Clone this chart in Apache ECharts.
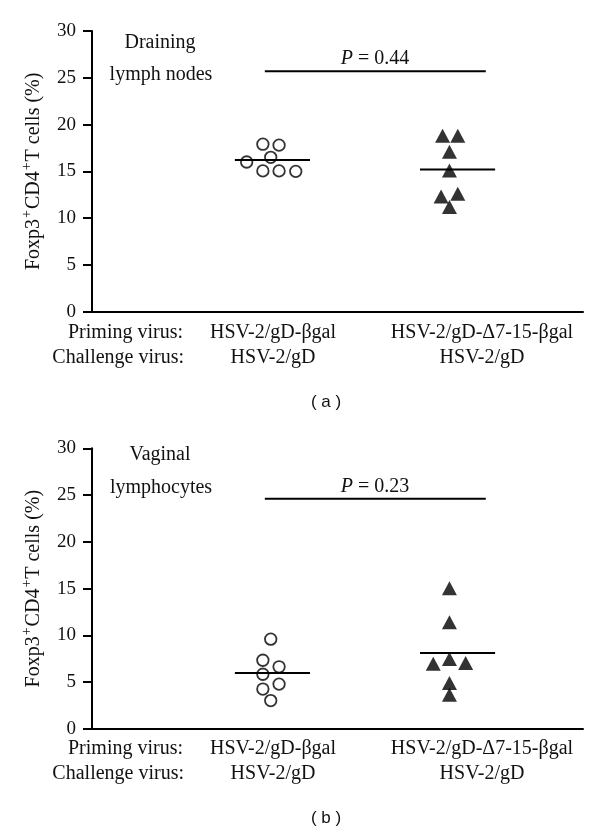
<!DOCTYPE html>
<html>
<head>
<meta charset="utf-8">
<script src="https://cdn.jsdelivr.net/npm/echarts@6/dist/echarts.min.js"></script>
<style>html,body{margin:0;padding:0;background:#fff}#c{width:600px;height:834px}</style>
</head>
<body>
<div id="c"></div>
<script>
// ---- data ----
const yTicks = [0, 5, 10, 15, 20, 25, 30];
const rowLabels = ['Priming virus:', 'Challenge virus:'];
const primingLabels = ['HSV-2/gD-βgal', 'HSV-2/gD-Δ7-15-βgal'];
const challengeLabels = ['HSV-2/gD', 'HSV-2/gD'];
const yAxisTitle = ['Foxp3', '+', 'CD4', '+', 'T cells (%)'];
const captions = ['( a )', '( b )'];

// panel (a): draining lymph nodes
const aTitle = ['Draining', 'lymph nodes'];
const aCircleX = [3.15, 3.48, 3.81, 3.64, 3.48, 3.81, 4.15];
const aCircleY = [16.0, 17.9, 17.8, 16.5, 15.05, 15.05, 15.0];
const aTriX = [7.14, 7.45, 7.28, 7.28, 7.11, 7.45, 7.28];
const aTriY = [18.8, 18.8, 17.1, 15.1, 12.3, 12.6, 11.2];
const aMeans = [16.2, 15.2];
const aP = '0.44';
const aPLevel = 25.7;

// panel (b): vaginal lymphocytes
const bTitle = ['Vaginal', 'lymphocytes'];
const bCircleX = [3.64, 3.48, 3.81, 3.48, 3.81, 3.48, 3.64];
const bCircleY = [9.6, 7.35, 6.65, 5.85, 4.8, 4.27, 3.04];
const bTriX = [7.28, 7.28, 7.28, 6.95, 7.61, 7.28, 7.28];
const bTriY = [15.05, 11.4, 7.47, 6.97, 7.05, 4.91, 3.66];
const bMeans = [5.98, 8.11];
const bP = '0.23';
const bPLevel = 24.6;

// horizontal extents (x-axis units) of the mean bars and p-value bar
const meanBarX = [[2.91, 4.44], [6.68, 8.21]];
const pBarX = [3.52, 8.02];

// ---- build ----
const SERIF = '"Liberation Serif", "Times New Roman", serif';
const chart = echarts.init(document.getElementById('c'), null, {renderer: 'canvas'});

const gridTops = [31, 448.3];
const gridH = 280.7;
const grids = gridTops.map(t => ({left: 92, top: t, width: 491, height: gridH}));

const xAxes = [0, 1].map(i => ({
  type: 'value', gridIndex: i, min: 0, max: 10,
  axisLine: {show: true, onZero: false, lineStyle: {color: '#000', width: 2}},
  axisTick: {show: false}, axisLabel: {show: false}, splitLine: {show: false}
}));

const yAxes = [0, 1].map(i => ({
  type: 'value', gridIndex: i, min: yTicks[0], max: yTicks[yTicks.length - 1], interval: yTicks[1] - yTicks[0],
  axisLine: {show: true, lineStyle: {color: '#000', width: 2}},
  axisTick: {show: true, length: 9, lineStyle: {color: '#000', width: 2}},
  axisLabel: {margin: 16, fontFamily: SERIF, fontSize: 19, color: '#111'},
  splitLine: {show: false},
  name: '{n|' + yAxisTitle[0] + '}{s|' + yAxisTitle[1] + '}{n|' + yAxisTitle[2] + '}{s|' + yAxisTitle[3] + '}{n|' + yAxisTitle[4] + '}',
  nameLocation: 'middle', nameGap: 48,
  nameTextStyle: {
    rich: {
      n: {fontFamily: SERIF, fontSize: 20, color: '#111', lineHeight: 24, verticalAlign: 'bottom'},
      s: {fontFamily: SERIF, fontSize: 14, color: '#111', verticalAlign: 'top', lineHeight: 24, padding: [0, 1, 0, 1]}
    }
  }
}));

function panelSeries(i, cx, cy, tx, ty, means, pLevel) {
  const circ = cx.map((x, k) => [x, cy[k]]);
  const tri = tx.map((x, k) => [x, ty[k]]);
  const s = [];
  s.push({type: 'scatter', xAxisIndex: i, yAxisIndex: i, data: circ, symbol: 'circle', symbolSize: 11.5,
    itemStyle: {color: '#fff', borderColor: '#000', borderWidth: 1.8}, z: 3});
  s.push({type: 'scatter', xAxisIndex: i, yAxisIndex: i, data: tri, symbol: 'triangle', symbolSize: [15, 14],
    itemStyle: {color: '#000'}, z: 3});
  means.forEach((m, g) => {
    s.push({type: 'line', xAxisIndex: i, yAxisIndex: i, data: [[meanBarX[g][0], m], [meanBarX[g][1], m]],
      symbol: 'none', lineStyle: {color: '#000', width: 2}, z: 4});
  });
  s.push({type: 'line', xAxisIndex: i, yAxisIndex: i, data: [[pBarX[0], pLevel], [pBarX[1], pLevel]],
    symbol: 'none', lineStyle: {color: '#000', width: 2}});
  return s;
}

const series = [].concat(
  panelSeries(0, aCircleX, aCircleY, aTriX, aTriY, aMeans, aPLevel),
  panelSeries(1, bCircleX, bCircleY, bTriX, bTriY, bMeans, bPLevel)
);

function txt(x, y, text, align, extra) {
  return {type: 'text', x: x, y: y, style: Object.assign({
    text: text, fill: '#111', font: '20px ' + SERIF, textAlign: align || 'center', textVerticalAlign: 'middle'
  }, extra || {})};
}

const graphic = [];
const panelTitleLines = [aTitle, bTitle];
const pTexts = [aP, bP];
const titleY = [[43, 75], [455, 488]];
const pTextY = [59, 487];
const labelY = [[333, 358], [749, 774]];
const captionY = [402, 818];
[0, 1].forEach(i => {
  graphic.push(txt(160, titleY[i][0], panelTitleLines[i][0]));
  graphic.push(txt(161, titleY[i][1], panelTitleLines[i][1]));
  graphic.push({type: 'text', x: 375, y: pTextY[i], style: {
    text: '{i|P} = ' + pTexts[i], textAlign: 'center', textVerticalAlign: 'middle',
    font: '20px ' + SERIF, fill: '#111',
    rich: {i: {font: 'italic 20px ' + SERIF, fill: '#111'}}
  }});
  graphic.push(txt(183, labelY[i][0], rowLabels[0], 'right'));
  graphic.push(txt(184, labelY[i][1], rowLabels[1], 'right'));
  graphic.push(txt(273, labelY[i][0], primingLabels[0]));
  graphic.push(txt(273, labelY[i][1], challengeLabels[0]));
  graphic.push(txt(482, labelY[i][0], primingLabels[1]));
  graphic.push(txt(482, labelY[i][1], challengeLabels[1]));
  graphic.push(txt(326, captionY[i], captions[i], 'center', {font: '17px "Liberation Sans", Arial, sans-serif'}));
});

chart.setOption({
  animation: false,
  backgroundColor: '#fff',
  grid: grids, xAxis: xAxes, yAxis: yAxes, series: series, graphic: graphic
});
</script>
</body>
</html>
